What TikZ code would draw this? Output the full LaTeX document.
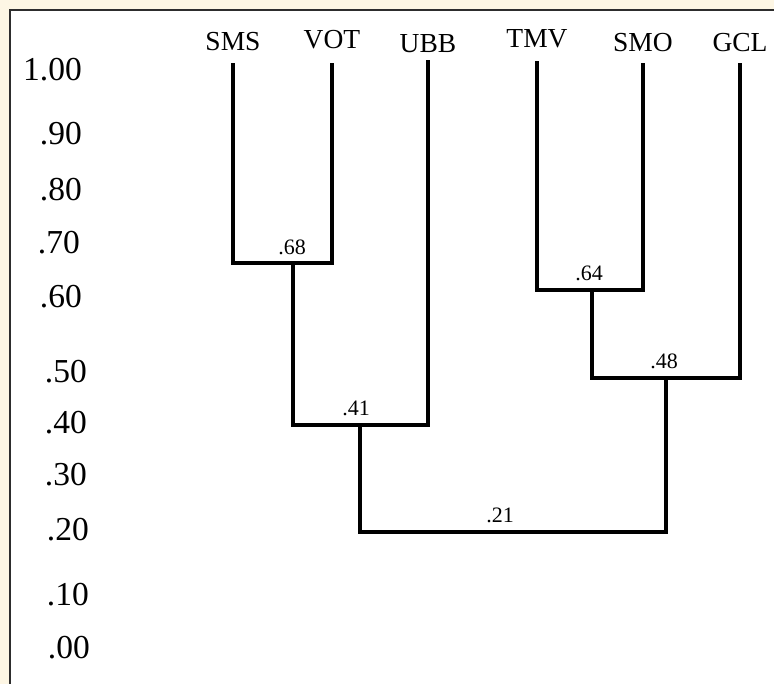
\documentclass[tikz,border=0pt]{standalone}
\usepackage{fontspec}
\setmainfont{Liberation Serif}
\usetikzlibrary{positioning}
\definecolor{cream}{RGB}{253,246,228}
\definecolor{framegray}{RGB}{45,45,45}

\begin{document}
\begin{tikzpicture}[x=1pt, y=-1pt,
    leaf/.style = {inner sep=0pt, font=\fontsize{27.5}{30}\selectfont},
    val/.style = {inner sep=0pt, font=\fontsize{22}{24}\selectfont},
    tick/.style = {inner sep=0pt, anchor=east, font=\fontsize{33.5}{36}\selectfont},
    branch/.style = {line width=3.5pt}]
    % page and white panel
    \fill[cream] (0,0) rectangle (774,684);
    \useasboundingbox (0,0) rectangle (774,684);
    \draw[framegray, line width=2.6pt, fill=white] (10,10) rectangle (800,710);

    % similarity scale
    \foreach \lab/\xr/\yc [count=\k] in {1.00/82/70, .90/82/134, .80/82/190,
        .70/80/243, .60/82/297, .50/87/372, .40/87/423, .30/87/475,
        .20/89/530, .10/89/595, .00/90/648}
        \node[tick] (tick\k) at (\xr,\yc) {\lab};

    % leaves
    \node[leaf] (sms) at (233,42) {SMS};
    \node[leaf] (vot) at (332,40) {VOT};
    \node[leaf] (ubb) at (428,44) {UBB};
    \node[leaf] (tmv) at (537,39) {TMV};
    \node[leaf] (smo) at (643,43) {SMO};
    \node[leaf] (gcl) at (740,43) {GCL};

    % merge points
    \coordinate (c68) at (293,263);
    \coordinate (c41) at (360,425);
    \coordinate (c64) at (592,290);
    \coordinate (c48) at (666,378);
    \coordinate (c21) at (513,532);

    % tree
    \draw[branch] ([yshift=-12pt]sms.south) |- (c68) -| ([yshift=-13pt]vot.south);
    \draw[branch] (c68) |- (c41) -| ([yshift=-7pt]ubb.south);
    \draw[branch] ([yshift=-13pt]tmv.south) |- (c64) -| ([yshift=-11pt]smo.south);
    \draw[branch] (c64) |- (c48) -| ([yshift=-11pt]gcl.south);
    \draw[branch] (c41) |- (c21) -| (c48);

    % coefficients
    \node[val] (v68) at (292,247) {.68};
    \node[val] (v41) at (356,408) {.41};
    \node[val] (v64) at (589,273) {.64};
    \node[val] (v48) at (664,361) {.48};
    \node[val] (v21) at (500,515) {.21};
\end{tikzpicture}
\end{document}
